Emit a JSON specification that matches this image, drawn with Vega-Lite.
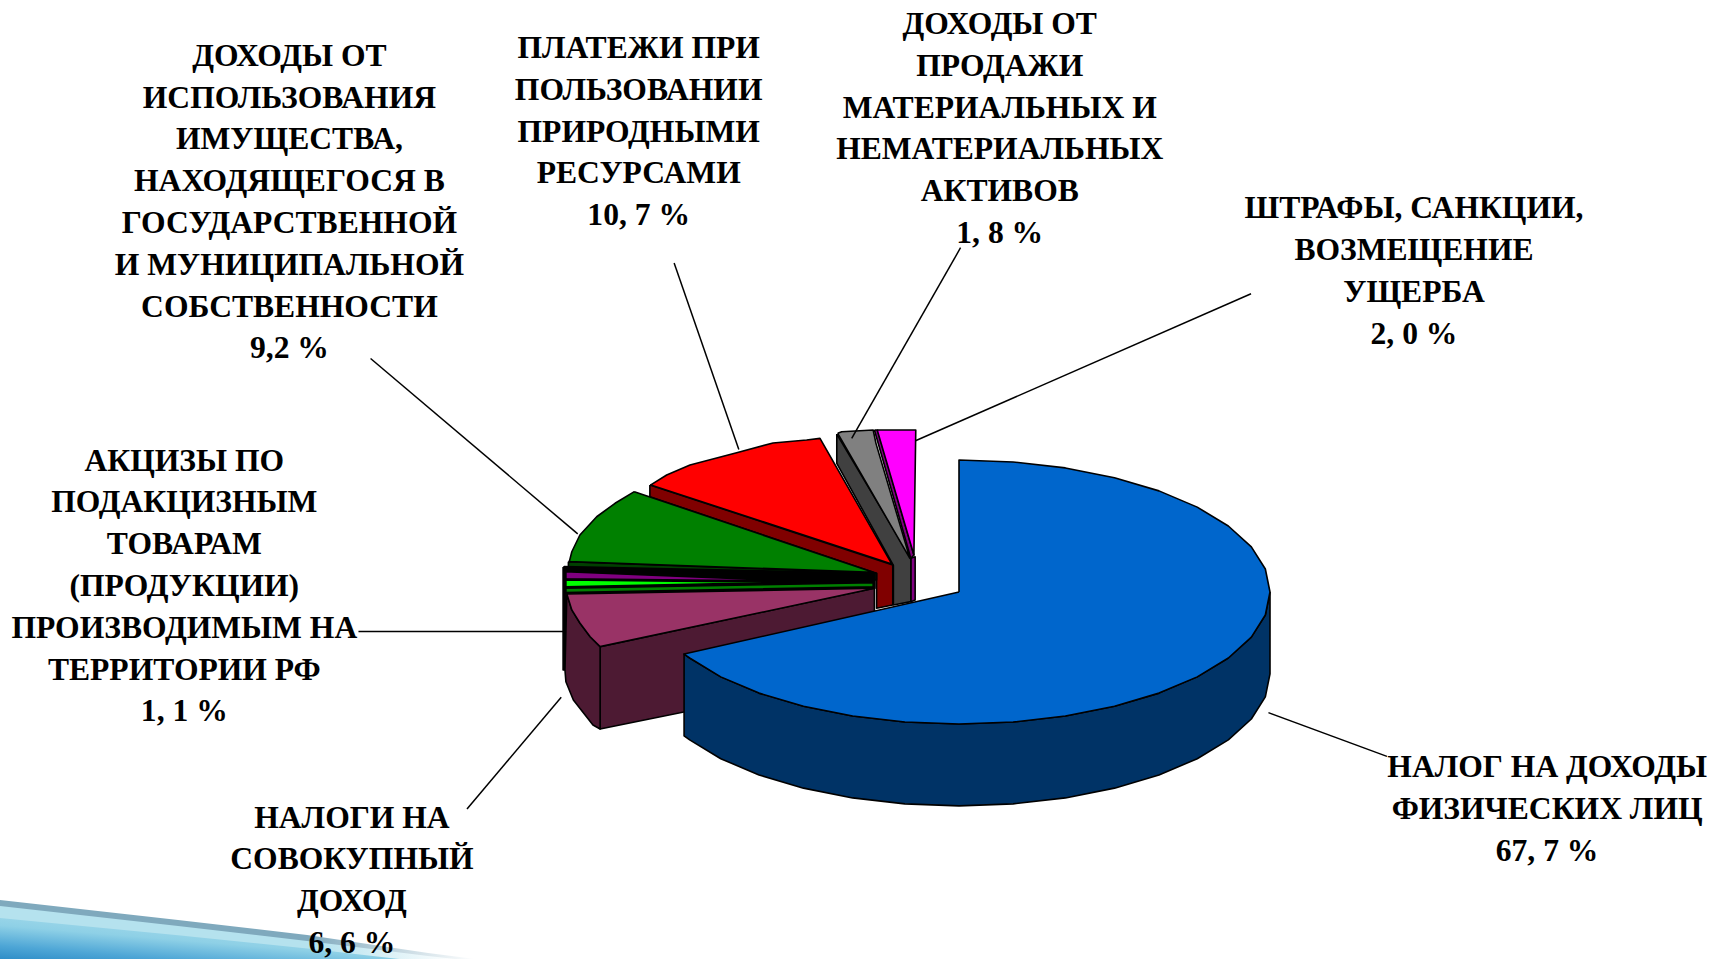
{
"$schema":"https://vega.github.io/schema/vega-lite/v6.json",
"width":1719,"height":959,"padding":0,
"autosize":"none",
"background":"#ffffff",
"config":{"view":{"stroke":null}},
"datasets":{
"band1":[{"x":-3.084,"y":-2.333,"b":-2.78},{"x":-2.511,"y":-2.485,"b":-2.78},{"x":-2.096,"y":-2.598,"b":-2.78},{"x":-1.707,"y":-2.735,"b":-2.78},{"x":-1.556,"y":-2.78,"b":-2.78}],
"band2":[{"x":-3.084,"y":-2.378,"b":-2.78},{"x":-2.511,"y":-2.53,"b":-2.78},{"x":-2.096,"y":-2.643,"b":-2.78},{"x":-1.707,"y":-2.757,"b":-2.78},{"x":-1.62,"y":-2.78,"b":-2.78}],
"band3":[{"x":-3.084,"y":-2.47,"b":-2.78},{"x":-2.511,"y":-2.6,"b":-2.78},{"x":-2.096,"y":-2.7,"b":-2.78},{"x":-1.8,"y":-2.78,"b":-2.78}],
"shapes":[
{"part":"purple side","i":1,"x":-0.155,"y":0.255},{"part":"purple side","i":2,"x":-0.155,"y":-0.073},{"part":"purple side","i":3,"x":-0.141,"y":-0.061},{"part":"purple side","i":4,"x":-0.141,"y":0.267},{"part":"purple side","i":5,"x":-0.155,"y":0.255},
{"part":"gray side","i":1,"x":-0.393,"y":1.197},{"part":"gray side","i":2,"x":-0.393,"y":0.975},{"part":"gray side","i":3,"x":-0.211,"y":0.201},{"part":"gray side","i":4,"x":-0.211,"y":-0.098},{"part":"gray side","i":5,"x":-0.155,"y":-0.073},{"part":"gray side","i":6,"x":-0.155,"y":0.255},{"part":"gray side","i":7,"x":-0.393,"y":1.197},
{"part":"gray top","i":1,"x":-0.39,"y":1.202},{"part":"gray top","i":2,"x":-0.377,"y":1.214},{"part":"gray top","i":3,"x":-0.276,"y":1.227},{"part":"gray top","i":4,"x":-0.267,"y":1.126},{"part":"gray top","i":5,"x":-0.158,"y":0.255},{"part":"gray top","i":6,"x":-0.39,"y":1.202},
{"part":"purple edge","i":1,"x":-0.272,"y":1.227},{"part":"purple edge","i":2,"x":-0.262,"y":1.227},{"part":"purple edge","i":3,"x":-0.145,"y":0.28},{"part":"purple edge","i":4,"x":-0.155,"y":0.255},{"part":"purple edge","i":5,"x":-0.272,"y":1.227},
{"part":"magenta","i":1,"x":-0.263,"y":1.227},{"part":"magenta","i":2,"x":-0.139,"y":1.227},{"part":"magenta","i":3,"x":-0.145,"y":0.28},{"part":"magenta","i":4,"x":-0.263,"y":1.227},
{"part":"red side","i":1,"x":-0.994,"y":0.811},{"part":"red side","i":2,"x":-0.994,"y":0.722},{"part":"red side","i":3,"x":-0.265,"y":0.142},{"part":"red side","i":4,"x":-0.265,"y":-0.123},{"part":"red side","i":5,"x":-0.213,"y":-0.098},{"part":"red side","i":6,"x":-0.213,"y":0.205},{"part":"red side","i":7,"x":-0.994,"y":0.811},
{"part":"red top","i":1,"x":-0.216,"y":0.212},{"part":"red top","i":2,"x":-0.447,"y":1.164},{"part":"red top","i":3,"x":-0.49,"y":1.152},{"part":"red top","i":4,"x":-0.598,"y":1.129},{"part":"red top","i":5,"x":-0.715,"y":1.055},{"part":"red top","i":6,"x":-0.865,"y":0.962},{"part":"red top","i":7,"x":-0.94,"y":0.886},{"part":"red top","i":8,"x":-0.991,"y":0.811},{"part":"red top","i":9,"x":-0.216,"y":0.212},
{"part":"green side","i":1,"x":-1.256,"y":0.23},{"part":"green side","i":2,"x":-0.265,"y":0.142},{"part":"green side","i":3,"x":-0.265,"y":0.091},{"part":"green side","i":4,"x":-1.256,"y":0.187},{"part":"green side","i":5,"x":-1.256,"y":0.23},
{"part":"green top","i":1,"x":-1.044,"y":0.76},{"part":"green top","i":2,"x":-0.276,"y":0.149},{"part":"green top","i":3,"x":-1.253,"y":0.23},{"part":"green top","i":4,"x":-1.245,"y":0.305},{"part":"green top","i":5,"x":-1.219,"y":0.432},{"part":"green top","i":6,"x":-1.165,"y":0.57},{"part":"green top","i":7,"x":-1.106,"y":0.672},{"part":"green top","i":8,"x":-1.044,"y":0.76},
{"part":"black","i":1,"x":-1.27,"y":0.192},{"part":"black","i":2,"x":-0.27,"y":0.142},{"part":"black","i":3,"x":-0.27,"y":0.028},{"part":"black","i":4,"x":-1.267,"y":-0.01},{"part":"black","i":5,"x":-1.27,"y":0.192},
{"part":"purple","i":1,"x":-1.267,"y":0.154},{"part":"purple","i":2,"x":-0.522,"y":0.083},{"part":"purple","i":3,"x":-1.267,"y":0.1},{"part":"purple","i":4,"x":-1.267,"y":0.154},
{"part":"lime","i":1,"x":-1.267,"y":0.092},{"part":"lime","i":2,"x":-0.554,"y":0.073},{"part":"lime","i":3,"x":-1.267,"y":0.04},{"part":"lime","i":4,"x":-1.267,"y":0.092},
{"part":"mid green","i":1,"x":-1.267,"y":0.028},{"part":"mid green","i":2,"x":-0.276,"y":0.07},{"part":"mid green","i":3,"x":-0.276,"y":0.04},{"part":"mid green","i":4,"x":-1.267,"y":-0.005},{"part":"mid green","i":5,"x":-1.267,"y":0.028},
{"part":"black strip","i":1,"x":-1.273,"y":0.189},{"part":"black strip","i":2,"x":-1.264,"y":0.189},{"part":"black strip","i":3,"x":-1.264,"y":-0.591},{"part":"black strip","i":4,"x":-1.273,"y":-0.591},{"part":"black strip","i":5,"x":-1.273,"y":0.189},
{"part":"plum front","i":1,"x":-0.272,"y":0.028},{"part":"plum front","i":2,"x":-1.154,"y":-0.414},{"part":"plum front","i":3,"x":-1.154,"y":-1.038},{"part":"plum front","i":4,"x":-0.272,"y":-0.616},{"part":"plum front","i":5,"x":-0.272,"y":0.028},
{"part":"plum side","i":1,"x":-1.261,"y":-0.015},{"part":"plum side","i":2,"x":-1.245,"y":-0.136},{"part":"plum side","i":3,"x":-1.219,"y":-0.235},{"part":"plum side","i":4,"x":-1.186,"y":-0.339},{"part":"plum side","i":5,"x":-1.154,"y":-0.414},{"part":"plum side","i":6,"x":-1.154,"y":-1.038},{"part":"plum side","i":7,"x":-1.177,"y":-1.008},{"part":"plum side","i":8,"x":-1.24,"y":-0.818},{"part":"plum side","i":9,"x":-1.264,"y":-0.68},{"part":"plum side","i":10,"x":-1.267,"y":-0.591},{"part":"plum side","i":11,"x":-1.261,"y":-0.015},
{"part":"plum top","i":1,"x":-1.261,"y":-0.015},{"part":"plum top","i":2,"x":-0.272,"y":0.028},{"part":"plum top","i":3,"x":-1.154,"y":-0.414},{"part":"plum top","i":4,"x":-1.186,"y":-0.339},{"part":"plum top","i":5,"x":-1.219,"y":-0.235},{"part":"plum top","i":6,"x":-1.245,"y":-0.136},{"part":"plum top","i":7,"x":-1.261,"y":-0.015},
{"part":"blue side","i":1,"x":1,"y":0},{"part":"blue side","i":2,"x":0.985,"y":-0.174},{"part":"blue side","i":3,"x":0.94,"y":-0.342},{"part":"blue side","i":4,"x":0.866,"y":-0.5},{"part":"blue side","i":5,"x":0.766,"y":-0.643},{"part":"blue side","i":6,"x":0.643,"y":-0.766},{"part":"blue side","i":7,"x":0.5,"y":-0.866},{"part":"blue side","i":8,"x":0.342,"y":-0.94},{"part":"blue side","i":9,"x":0.174,"y":-0.985},{"part":"blue side","i":10,"x":0,"y":-1},{"part":"blue side","i":11,"x":-0.174,"y":-0.985},{"part":"blue side","i":12,"x":-0.342,"y":-0.94},{"part":"blue side","i":13,"x":-0.5,"y":-0.866},{"part":"blue side","i":14,"x":-0.643,"y":-0.766},{"part":"blue side","i":15,"x":-0.766,"y":-0.643},{"part":"blue side","i":16,"x":-0.866,"y":-0.5},{"part":"blue side","i":17,"x":-0.884,"y":-0.47},
{"part":"blue side","i":18,"x":-0.884,"y":-1.09},{"part":"blue side","i":19,"x":-0.866,"y":-1.12},{"part":"blue side","i":20,"x":-0.766,"y":-1.263},{"part":"blue side","i":21,"x":-0.643,"y":-1.386},{"part":"blue side","i":22,"x":-0.5,"y":-1.486},{"part":"blue side","i":23,"x":-0.342,"y":-1.56},{"part":"blue side","i":24,"x":-0.174,"y":-1.605},{"part":"blue side","i":25,"x":0,"y":-1.62},{"part":"blue side","i":26,"x":0.174,"y":-1.605},{"part":"blue side","i":27,"x":0.342,"y":-1.56},{"part":"blue side","i":28,"x":0.5,"y":-1.486},{"part":"blue side","i":29,"x":0.643,"y":-1.386},{"part":"blue side","i":30,"x":0.766,"y":-1.263},{"part":"blue side","i":31,"x":0.866,"y":-1.12},{"part":"blue side","i":32,"x":0.94,"y":-0.962},{"part":"blue side","i":33,"x":0.985,"y":-0.794},{"part":"blue side","i":34,"x":1,"y":-0.62},{"part":"blue side","i":35,"x":1,"y":0},
{"part":"blue top","i":1,"x":0,"y":0},{"part":"blue top","i":2,"x":0,"y":1},{"part":"blue top","i":3,"x":0.174,"y":0.985},{"part":"blue top","i":4,"x":0.342,"y":0.94},{"part":"blue top","i":5,"x":0.5,"y":0.866},{"part":"blue top","i":6,"x":0.643,"y":0.766},{"part":"blue top","i":7,"x":0.766,"y":0.643},{"part":"blue top","i":8,"x":0.866,"y":0.5},{"part":"blue top","i":9,"x":0.94,"y":0.342},{"part":"blue top","i":10,"x":0.985,"y":0.174},{"part":"blue top","i":11,"x":1,"y":0},{"part":"blue top","i":12,"x":0.985,"y":-0.174},{"part":"blue top","i":13,"x":0.94,"y":-0.342},{"part":"blue top","i":14,"x":0.866,"y":-0.5},{"part":"blue top","i":15,"x":0.766,"y":-0.643},{"part":"blue top","i":16,"x":0.643,"y":-0.766},{"part":"blue top","i":17,"x":0.5,"y":-0.866},{"part":"blue top","i":18,"x":0.342,"y":-0.94},{"part":"blue top","i":19,"x":0.174,"y":-0.985},{"part":"blue top","i":20,"x":0,"y":-1},{"part":"blue top","i":21,"x":-0.174,"y":-0.985},{"part":"blue top","i":22,"x":-0.342,"y":-0.94},{"part":"blue top","i":23,"x":-0.5,"y":-0.866},{"part":"blue top","i":24,"x":-0.643,"y":-0.766},{"part":"blue top","i":25,"x":-0.766,"y":-0.643},{"part":"blue top","i":26,"x":-0.866,"y":-0.5},{"part":"blue top","i":27,"x":-0.884,"y":-0.47},{"part":"blue top","i":28,"x":0,"y":0}
],
"leaders":[
{"leader":"blue","x":0.995,"y":-0.914},{"leader":"blue","x":1.376,"y":-1.245},
{"leader":"plum","x":-1.279,"y":-0.797},{"leader":"plum","x":-1.582,"y":-1.644},
{"leader":"excise","x":-1.931,"y":-0.299},{"leader":"excise","x":-1.272,"y":-0.299},
{"leader":"green","x":-1.892,"y":1.769},{"leader":"green","x":-1.226,"y":0.44},
{"leader":"red","x":-0.916,"y":2.492},{"leader":"red","x":-0.708,"y":1.08},
{"leader":"gray","x":0.005,"y":2.608},{"leader":"gray","x":-0.345,"y":1.163},
{"leader":"magenta","x":0.939,"y":2.259},{"leader":"magenta","x":-0.14,"y":1.146}
],
"labels":[
{"label":"ДОХОДЫ ОТ\nИСПОЛЬЗОВАНИЯ\nИМУЩЕСТВА,\nНАХОДЯЩЕГОСЯ В\nГОСУДАРСТВЕННОЙ\nИ МУНИЦИПАЛЬНОЙ\nСОБСТВЕННОСТИ\n9,2 %","x":-2.153,"y":4.175},
{"label":"ПЛАТЕЖИ ПРИ\nПОЛЬЗОВАНИИ\nПРИРОДНЫМИ\nРЕСУРСАМИ\n10, 7 %","x":-1.03,"y":4.235},
{"label":"ДОХОДЫ ОТ\nПРОДАЖИ\nМАТЕРИАЛЬНЫХ И\nНЕМАТЕРИАЛЬНЫХ\nАКТИВОВ\n1, 8 %","x":0.131,"y":4.417},
{"label":"ШТРАФЫ, САНКЦИИ,\nВОЗМЕЩЕНИЕ\nУЩЕРБА\n2, 0 %","x":1.463,"y":3.019},
{"label":"АКЦИЗЫ ПО\nПОДАКЦИЗНЫМ\nТОВАРАМ\n(ПРОДУКЦИИ)\nПРОИЗВОДИМЫМ НА\nТЕРРИТОРИИ РФ\n1, 1 %","x":-2.491,"y":1.109},
{"label":"НАЛОГИ НА\nСОВОКУПНЫЙ\nДОХОД\n6, 6 %","x":-1.952,"y":-1.596},
{"label":"НАЛОГ НА ДОХОДЫ\nФИЗИЧЕСКИХ ЛИЦ\n67, 7 %","x":1.891,"y":-1.214}
]
},
"encoding":{
"x":{"field":"x","type":"quantitative","axis":null,"scale":{"domain":[-3.0836,2.4437],"nice":false,"zero":false}},
"y":{"field":"y","type":"quantitative","axis":null,"scale":{"domain":[-2.7803,4.4848],"nice":false,"zero":false}}
},
"layer":[
{"data":{"name":"band1"},"mark":{"type":"area","color":{"gradient":"linear","x1":0,"x2":1,"y1":0,"y2":0,"stops":[{"offset":0,"color":"#7fa9bd"},{"offset":0.65,"color":"#7fa9bd"},{"offset":1,"color":"#ffffff"}]}},"encoding":{"y2":{"field":"b"}}},
{"data":{"name":"band2"},"mark":{"type":"area","color":{"gradient":"linear","x1":0,"x2":1,"y1":0,"y2":0,"stops":[{"offset":0,"color":"#b5e2ee"},{"offset":0.7,"color":"#b5e2ee"},{"offset":1,"color":"#ffffff"}]}},"encoding":{"y2":{"field":"b"}}},
{"data":{"name":"band3"},"mark":{"type":"area","color":{"gradient":"linear","x1":0.8,"y1":0,"x2":0,"y2":1,"stops":[{"offset":0,"color":"#b5e2ee"},{"offset":0.5,"color":"#8ed0e6"},{"offset":0.8,"color":"#4ea6d6"},{"offset":1,"color":"#2f8ec8"}]}},"encoding":{"y2":{"field":"b"}}},
{"data":{"name":"shapes"},
"mark":{"type":"line","filled":true,"stroke":"#000000","strokeWidth":1.6,"strokeJoin":"round"},
"encoding":{
"order":{"field":"i","type":"quantitative"},
"fill":{"field":"part","type":"nominal","legend":null,"sort":null,"scale":{
"domain":["magenta","purple edge","purple side","gray side","gray top","red side","red top","green side","green top","black","purple","lime","mid green","black strip","plum front","plum side","plum top","blue side","blue top"],
"range":["#ff00ff","#800080","#800080","#404040","#808080","#800000","#ff0000","#004000","#008000","#000000","#800080","#00ff00","#008000","#000000","#4d1a33","#4d1a33","#993366","#003366","#0066cc"]}}
}},
{"data":{"name":"leaders"},"mark":{"type":"line","color":"#000000","strokeWidth":1.5},"encoding":{"detail":{"field":"leader"}}},
{"data":{"name":"labels"},"mark":{"type":"text","font":"Liberation Serif","fontWeight":"bold","fontSize":31.6,"lineHeight":41.8,"lineBreak":"\n","align":"center","baseline":"top","color":"#000000"},"encoding":{"text":{"field":"label"}}}
]
}
